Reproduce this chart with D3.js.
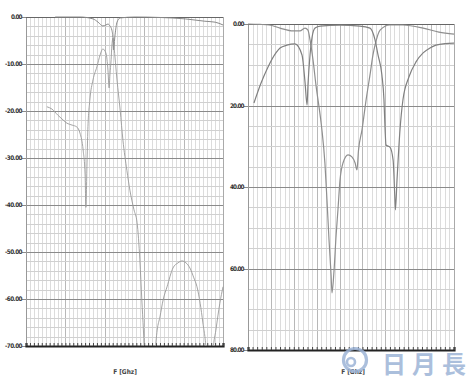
<!DOCTYPE html>
<html><head><meta charset="utf-8">
<script src="https://cdn.jsdelivr.net/npm/d3@7"></script>
<style>body{margin:0;background:#fff}svg{display:block}</style>
</head><body>
<svg id="c" width="476" height="387"></svg>
<script>
// ---- data (x in grid divisions, y in dB) ----
const leftTicks = [0, -10, -20, -30, -40, -50, -60, -70];
const leftTickLabels = ["0.00", "-10.00", "-20.00", "-30.00", "-40.00", "-50.00", "-60.00", "-70.00"];
const rightTicks = [0, 20, 40, 60, 80];
const rightTickLabels = ["0.00", "20.00", "40.00", "60.00", "80.00"];
const xLabel = "F [Ghz]";
const watermark = "日月長";

const leftS11 = [[0.74,0],[1.37,0],[1.70,-0.4],[1.83,-1.1],[1.95,-1.9],[2.03,-1.7],[2.08,-1.5],[2.13,-1.9],[2.18,-2.8],[2.21,-4.9],[2.22,-7],[2.26,-3.8],[2.31,-1.1],[2.39,-0.2],[2.77,0],[3.40,-0.1],[4.04,-0.4],[4.54,-0.9],[4.80,-1.1],[5.0,-1.7]];
const leftS21 = [[0.53,-19.1],[0.66,-19.6],[0.81,-20.9],[0.94,-21.9],[1.04,-22.6],[1.17,-23.0],[1.29,-23.4],[1.37,-24.7],[1.45,-28.3],[1.50,-33.6],[1.52,-40.5],[1.55,-30.4],[1.57,-24],[1.62,-17.7],[1.70,-13.4],[1.80,-10.6],[1.88,-8.1],[1.95,-6.8],[2.03,-7.7],[2.08,-11.3],[2.11,-15.1],[2.13,-12.3],[2.16,-9.1],[2.18,-6.0],[2.21,-4.5],[2.23,-6.0],[2.31,-13.4],[2.39,-19.8],[2.46,-26.2],[2.56,-32.6],[2.64,-37.0],[2.74,-41.0],[2.82,-43.8],[2.89,-51.7],[2.94,-60.2],[2.98,-66.6],[3.02,-74],[3.15,-90],[3.27,-72],[3.33,-66.6],[3.40,-63.8],[3.48,-60.2],[3.58,-57.4],[3.73,-53.4],[3.86,-52.3],[3.96,-51.9],[4.06,-52.3],[4.16,-53.4],[4.26,-55.5],[4.34,-57.4],[4.42,-60.9],[4.49,-65.1],[4.57,-71],[4.66,-90],[4.75,-71],[4.82,-66.6],[4.92,-60.9],[5.0,-57.4]];

const rightA = [[0,0],[0.52,0.1],[0.92,0.25],[1.40,1.0],[1.97,1.7],[2.27,1.7],[2.49,1.0],[2.62,1.5],[2.71,3.9],[2.84,8.8],[2.97,15],[3.15,22.3],[3.23,26],[3.36,34.1],[3.45,43.2],[3.54,53],[3.63,61.6],[3.67,66],[3.76,60.4],[3.85,51.8],[3.93,45.6],[4.02,38.3],[4.15,34.1],[4.37,32.1],[4.54,32.6],[4.68,34.1],[4.76,35.8],[4.83,30.9],[4.98,26],[5.16,18.6],[5.33,12.5],[5.46,7.6],[5.55,5.2],[5.77,1.5],[6.20,0.25],[6.77,0.25],[7.65,1.0],[8.34,2.0],[9.0,2.5]];
const rightB = [[0.26,19.4],[0.57,14.5],[0.87,10.6],[1.22,7.1],[1.40,5.9],[1.70,5.2],[2.05,4.9],[2.36,7.6],[2.49,14.2],[2.58,19.9],[2.62,15],[2.71,7.6],[2.80,3.2],[2.93,1.0],[3.15,0.5],[4.02,0.3],[4.89,0.5],[5.33,1.0],[5.55,3.9],[5.68,7.6],[5.85,12.5],[5.94,18.6],[5.99,26],[6.03,29.7],[6.20,30.2],[6.34,33.4],[6.42,43.2],[6.44,45.6],[6.51,38.3],[6.64,26],[6.77,18.6],[7.03,13],[7.34,9.3],[7.65,7.1],[7.95,5.9],[8.21,5.2],[8.61,4.8],[9.0,4.7]];

const svg = d3.select("#c");
const font = "'DejaVu Sans Condensed','DejaVu Sans',sans-serif";

function panel(o) {
  const g = svg.append("g");
  const x = d3.scaleLinear().domain(o.xDomain).range([o.x0, o.x1]);
  const y = d3.scaleLinear().domain(o.yDomain).range([o.y0, o.y1]);
  // vertical grid
  const vMinor = d3.range(o.xDomain[0], o.xDomain[1] + 1e-9, o.xMinor);
  g.selectAll(null).data(vMinor).join("line")
    .attr("x1", d => Math.round(x(d)) + 0.5).attr("x2", d => Math.round(x(d)) + 0.5)
    .attr("y1", o.y0).attr("y2", o.y1)
    .attr("stroke", (d) => Math.abs(d - Math.round(d)) < 1e-6 ? "#b8b8b8" : "#dcdcdc")
    .attr("stroke-width", 1);
  // horizontal grid
  const hMinor = d3.range(0, o.nH + 1).map(i => o.yDomain[0] + (o.yDomain[1] - o.yDomain[0]) * i / o.nH);
  g.selectAll(null).data(hMinor).join("line")
    .attr("x1", o.x0).attr("x2", o.x1)
    .attr("y1", d => Math.round(y(d)) + 0.5).attr("y2", d => Math.round(y(d)) + 0.5)
    .attr("stroke", "#d0d0d0");
  g.selectAll(null).data(o.ticks).join("line")
    .attr("x1", o.x0 - 4).attr("x2", o.x1)
    .attr("y1", d => Math.round(y(d)) + 0.5).attr("y2", d => Math.round(y(d)) + 0.5)
    .attr("stroke", "#8a8a8a");
  // frame
  g.append("line").attr("x1", o.x0 + 0.5).attr("x2", o.x0 + 0.5).attr("y1", o.y0).attr("y2", o.y1).attr("stroke", "#999");
  g.append("line").attr("x1", o.x1 + 0.5).attr("x2", o.x1 + 0.5).attr("y1", o.y0).attr("y2", o.y1).attr("stroke", "#aaa");
  g.append("line").attr("x1", o.x0).attr("x2", o.x1).attr("y1", o.y0 + 0.5).attr("y2", o.y0 + 0.5).attr("stroke", "#666");
  // bottom axis with ticks
  const ax = d3.axisBottom(x).tickValues(vMinor).tickSize(-3).tickFormat("");
  const axg = g.append("g").attr("transform", `translate(0,${o.y1})`).call(ax);
  axg.select(".domain").attr("stroke", "#222").attr("stroke-width", 2.2);
  axg.selectAll(".tick line").attr("stroke", "#444");
  // labels
  g.selectAll(null).data(o.ticks).join("text")
    .attr("x", o.x0 - 3.5).attr("y", d => y(d) + 2.4)
    .attr("text-anchor", "end").attr("font-family", font).attr("font-weight", "bold")
    .attr("font-size", 6.3).attr("fill", "#333").attr("textLength", (d, i) => o.labels[i].length * 2.9)
    .text((d, i) => o.labels[i]);
  // clip + curves
  const id = "clip" + o.id;
  svg.append("clipPath").attr("id", id).append("rect")
    .attr("x", o.x0).attr("y", o.y0 - 2).attr("width", o.x1 - o.x0 + 1).attr("height", o.y1 - o.y0 + 1);
  const line = d3.line().x(d => x(d[0])).y(d => y(d[1])).curve(d3.curveMonotoneX);
  o.series.forEach(s => {
    g.append("path").attr("d", line(s.data)).attr("clip-path", `url(#${id})`)
      .attr("fill", "none").attr("stroke", s.color).attr("stroke-width", s.w);
  });
  g.append("text").attr("x", o.labelX).attr("y", 374).attr("text-anchor", "middle")
    .attr("font-family", font).attr("font-size", 6.5).attr("font-weight", "bold").attr("fill", "#444")
    .text(xLabel);
  return g;
}

panel({id: "L", xDomain: [0, 5], xMinor: 0.1, yDomain: [0, -70], nH: 35,
  x0: 26, x1: 223, y0: 17, y1: 346, ticks: leftTicks, labels: leftTickLabels, labelX: 125,
  series: [{data: leftS21, color: "#9a9a9a", w: 0.9}, {data: leftS11, color: "#8a8a8a", w: 1}]});

panel({id: "R", xDomain: [0, 9], xMinor: 0.2, yDomain: [0, 80], nH: 16,
  x0: 248, x1: 454, y0: 24, y1: 350, ticks: rightTicks, labels: rightTickLabels, labelX: 353,
  series: [{data: rightA, color: "#8f8f8f", w: 1.2}, {data: rightB, color: "#808080", w: 1.2}]});

// watermark
const wm = svg.append("g").attr("opacity", 0.85);
wm.append("circle").attr("cx", 355).attr("cy", 360).attr("r", 11.5)
  .attr("fill", "none").attr("stroke", "#9db4d7").attr("stroke-width", 3.2);
wm.append("circle").attr("cx", 351).attr("cy", 362).attr("r", 4)
  .attr("fill", "none").attr("stroke", "#9db4d7").attr("stroke-width", 2.6);
wm.append("text").attr("x", 382).attr("y", 373)
  .attr("font-family", "'Noto Sans CJK TC','Noto Sans CJK SC',sans-serif").attr("font-weight", "bold")
  .attr("font-size", 24).attr("letter-spacing", 6).attr("fill", "#9db4d7")
  .text(watermark);
</script>
</body></html>
